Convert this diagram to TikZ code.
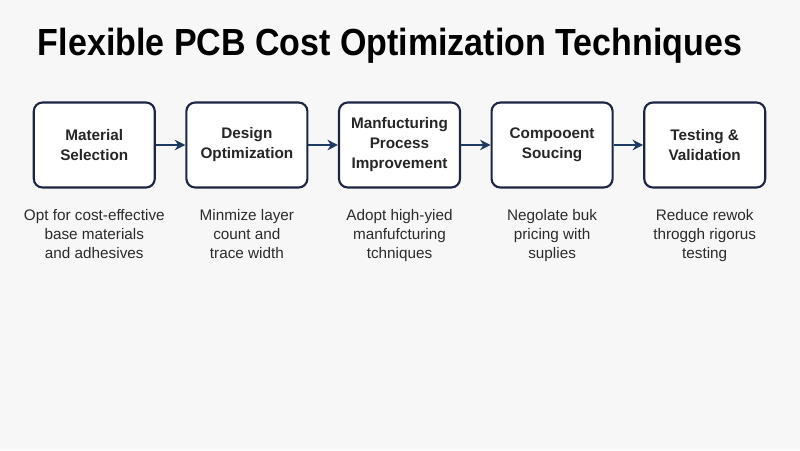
\documentclass[tikz,border=0pt]{standalone}
\usepackage{fontspec}
\setmainfont{Liberation Sans}
\usetikzlibrary{matrix,arrows.meta,positioning}

\definecolor{boxline}{HTML}{1C2541}
\definecolor{flowline}{HTML}{1F3A60}
\definecolor{pagebg}{HTML}{F7F7F7}
\definecolor{desctext}{HTML}{2B2B2B}

\tikzset{
  stage/.style={draw=boxline, line width=1.2pt, rounded corners=5pt, fill=white,
    minimum width=2.42cm, minimum height=1.7cm, align=center,
    font=\bfseries\fontsize{8.7}{11.4}\selectfont, text=black!85},
  desc/.style={align=center, inner sep=0pt, text=desctext,
    font=\fontsize{8.7}{10.6}\selectfont},
  flow/.style={draw=flowline, line width=1.2pt, -{Stealth[length=6pt,width=6pt]}}
}

\begin{document}
\begin{tikzpicture}
  \fill[pagebg] (0,0) rectangle (16,-9);
  \useasboundingbox (0,0) rectangle (16,-9);

  \node (title) at (7.8,-0.92) {\scalebox{0.9}[1]{\bfseries\fontsize{21.5}{24}\selectfont Flexible PCB Cost Optimization Techniques}};

  \matrix (mat) at (7.99,-2.9) [column sep=0.59cm]{
    \node[stage] (sel) {Material\\Selection}; &
    \node[stage] (des) {Design\\Optimization}; &
    \node[stage] (man) {Manfucturing\\Process\\Improvement}; &
    \node[stage] (com) {Compooent\\Soucing}; &
    \node[stage] (tst) {Testing \&\\Validation}; \\
  };

  \draw[flow] (sel) -- (des);
  \draw[flow] (des) -- (man);
  \draw[flow] (man) -- (com);
  \draw[flow] (com) -- (tst);

  % descriptions under each stage
  \node[desc, below=0.42cm of sel] (dsel) {Opt for cost-effective\\base materials\\and adhesives};
  \node[desc, below=0.42cm of des] (ddes) {Minmize layer\\count and\\trace width};
  \node[desc, below=0.42cm of man] (dman) {Adopt high-yied\\manfufcturing\\tchniques};
  \node[desc, below=0.42cm of com] (dcom) {Negolate buk\\pricing with\\suplies};
  \node[desc, below=0.42cm of tst] (dtst) {Reduce rewok\\throggh rigorus\\testing};
\end{tikzpicture}
\end{document}
